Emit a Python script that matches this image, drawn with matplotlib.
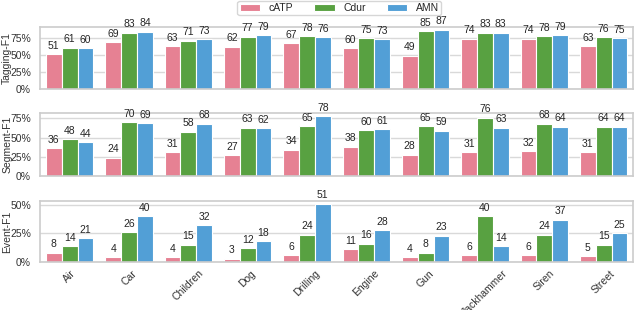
import numpy as np
import matplotlib
matplotlib.use("Agg")
import matplotlib.pyplot as plt
import seaborn as sns
from matplotlib.ticker import FuncFormatter

categories = ["Air", "Car", "Children", "Dog", "Drilling", "Engine", "Gun", "Jackhammer", "Siren", "Street"]
methods = ["cATP", "Cdur", "AMN"]

tagging = {
    "cATP": [51, 69, 63, 62, 67, 60, 49, 74, 74, 63],
    "Cdur": [61, 83, 71, 77, 78, 75, 85, 83, 78, 76],
    "AMN":  [60, 84, 73, 79, 76, 73, 87, 83, 79, 75],
}
segment = {
    "cATP": [36, 24, 31, 27, 34, 38, 28, 31, 32, 31],
    "Cdur": [48, 70, 58, 63, 65, 60, 65, 76, 68, 64],
    "AMN":  [44, 69, 68, 62, 78, 61, 59, 63, 64, 64],
}
event = {
    "cATP": [8, 4, 4, 3, 6, 11, 4, 6, 6, 5],
    "Cdur": [14, 26, 15, 12, 24, 16, 8, 40, 24, 15],
    "AMN":  [21, 40, 32, 18, 51, 28, 23, 14, 37, 25],
}
panels = [("Tagging-F1", tagging, [0, 25, 50, 75]),
          ("Segment-F1", segment, [0, 25, 50, 75]),
          ("Event-F1", event, [0, 25, 50])]

sns.set_style("whitegrid")
plt.rcParams['font.family'] = ['Liberation Sans', 'DejaVu Sans']

base = sns.color_palette("husl", 3)
colors = [sns.desaturate(c, 0.75) for c in base]

fig = plt.figure(figsize=(6.4, 3.1), dpi=100)
rects = [(0.0625, 0.713, 0.927, 0.200),
         (0.0625, 0.432, 0.927, 0.203),
         (0.0625, 0.155, 0.927, 0.197)]

x = np.arange(len(categories))
w = 0.8 / 3
axes = []
for i, (rect, (ylabel, data, yt)) in enumerate(zip(rects, panels)):
    ax = fig.add_axes(rect)
    axes.append(ax)
    for j, m in enumerate(methods):
        vals = data[m]
        ax.bar(x + (j - 1) * w, vals, width=w, color=colors[j],
               edgecolor="white", linewidth=0.8, label=m, zorder=2)
        for xi, v in zip(x + (j - 1) * w, vals):
            ax.annotate(str(v), (xi, v), xytext=(0, 2.5), textcoords="offset points",
                        ha="center", va="bottom", fontsize=7.5, color="#262626")
    ax.set_xlim(-0.5, len(categories) - 0.5)
    ax.set_ylim(0, max(max(v) for v in data.values()) * 1.05)
    ax.set_yticks(yt)
    ax.yaxis.set_major_formatter(FuncFormatter(lambda v, p: f"{int(v)}%"))
    ax.set_ylabel(ylabel, fontsize=7.5, color="#333333")
    ax.yaxis.set_label_coords(-0.047, 0.5)
    ax.tick_params(axis="y", labelsize=7.5, pad=3, colors="#333333")
    ax.grid(axis="x", visible=False)
    ax.grid(axis="y", color="#d9d9d9", linewidth=1, zorder=0)
    ax.set_axisbelow(True)
    for s in ax.spines.values():
        s.set_color("#cccccc")
        s.set_linewidth(1.2)
    ax.set_xticks(x)
    if i < 2:
        ax.set_xticklabels([])
    else:
        ax.set_xticklabels(categories, rotation=45, fontsize=7.5, color="#333333")
        ax.tick_params(axis="x", pad=1)

h, l = axes[0].get_legend_handles_labels()
leg = fig.legend(h, l, loc="upper center", bbox_to_anchor=(0.53, 1.0), ncol=3,
                 fontsize=7.5, handlelength=2.0, columnspacing=2.0, frameon=True,
                 borderpad=0.2, handletextpad=0.8, borderaxespad=0.1)
leg.get_frame().set_edgecolor("#cccccc")

fig.savefig("out.png", dpi=100)
